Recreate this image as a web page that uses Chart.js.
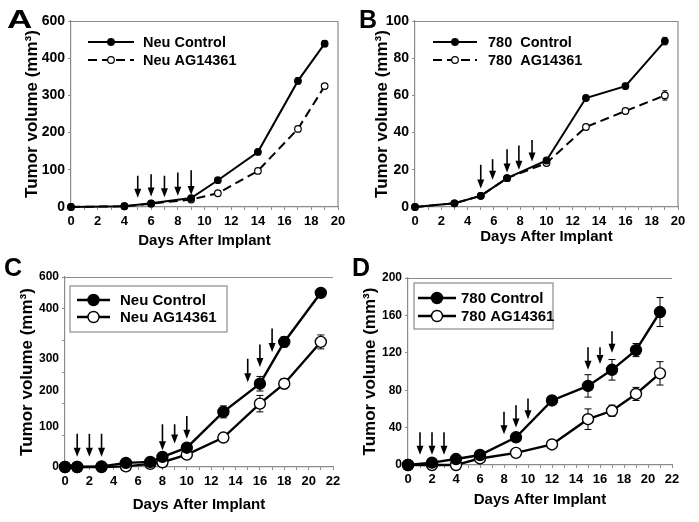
<!DOCTYPE html>
<html>
<head>
<meta charset="utf-8">
<script src="https://cdn.jsdelivr.net/npm/chart.js@4.4.1/dist/chart.umd.min.js"></script>
<style>
  body { margin: 0; background: #fff; }
  #fig { position: relative; width: 699px; height: 522px; overflow: hidden; font-family: "Liberation Sans", Arial, sans-serif; }
  .panel { position: absolute; }
  .letter { position: absolute; font-weight: bold; font-size: 25px; line-height: 1; color: #000; transform-origin: left top; }
</style>
</head>
<body>
<div id="fig">
  <div class="panel" style="left:0;top:0"><canvas id="chartA" width="350" height="260" style="width:350px;height:260px"></canvas></div>
  <div class="panel" style="left:350px;top:0"><canvas id="chartB" width="349" height="260" style="width:349px;height:260px"></canvas></div>
  <div class="panel" style="left:0;top:260px"><canvas id="chartC" width="350" height="262" style="width:350px;height:262px"></canvas></div>
  <div class="panel" style="left:350px;top:260px"><canvas id="chartD" width="349" height="262" style="width:349px;height:262px"></canvas></div>
  <div class="letter" style="left:7px;top:7px;transform:scaleX(1.4)">A</div>
  <div class="letter" style="left:359px;top:7px">B</div>
  <div class="letter" style="left:4px;top:255px">C</div>
  <div class="letter" style="left:352px;top:255px">D</div>
</div>
<script>
// Panel A - Neu, dashed treatment line
const daysA = [0, 4, 6, 9, 11, 14, 17, 19];
const neuControlA = [0, 2, 10, 24, 72, 148, 339, 439];
const neuControlErrA = [0, 0, 1, 2, 3, 4, 8, 8];
const neuAgA = [0, 2, 9, 20, 37, 97, 210, 325];
const neuAgErrA = [0, 0, 1, 2, 2, 3, 4, 4];
const arrowDaysA = [5, 6, 7, 8, 9];
const arrowTopA = [84, 88, 84, 93, 99];
const arrowTipA = [25, 28, 26, 30, 32];
// y labels of panel A as printed (top step is labelled 600)
const tickMarksA = [0, 100, 200, 300, 400, 500];
const tickLabelPosA = [0, 100, 200, 300, 400, 500];
const tickLabelsA = ['0', '100', '200', '300', '400', '600'];

// Panel B - 780, dashed treatment line
const daysB = [0, 3, 5, 7, 10, 13, 16, 19];
const ctlControlB = [0, 2, 6, 15.5, 25, 58.6, 65, 89.2];
const ctlControlErrB = [0, 0, 0, 0, 0, 0.8, 1.5, 2];
const ctlAgB = [0, 2, 6, 15.5, 23.6, 43, 51.6, 60];
const ctlAgErrB = [0, 0, 0, 0, 0, 0, 0.6, 2.5];
const arrowDaysB = [5, 5.9, 7, 7.9, 8.9];
const arrowTopB = [22.7, 25.7, 31, 33, 36];
const arrowTipB = [10, 14.6, 18.5, 20, 24.5];

// Panel C - Neu, second experiment
const daysC = [0, 1, 3, 5, 7, 8, 10, 13, 16, 18, 21];
const neuControlC = [0, 0, 2, 13, 16, 32, 61, 174, 263, 395, 550];
const neuControlErrC = [0, 0, 0, 0, 0, 0, 0, 19, 23, 16, 5];
const neuAgC = [0, 0, 0, 2, 10, 15, 39, 93, 200, 263, 395];
const neuAgErrC = [0, 0, 0, 0, 0, 0, 0, 0, 26, 16, 22];
const arrowDaysC = [1, 2, 3, 8, 9, 10, 15, 16, 17];
const arrowTopC = [105, 105, 105, 135, 135, 161, 342, 387, 437];
const arrowTipC = [32, 32, 32, 53, 74, 89, 268, 316, 363];
// y labels of panel C as printed (they sit off the 100-step tick marks)
const tickMarksC = [0, 100, 200, 300, 400, 500, 600];
const tickLabelPosC = [0, 126, 242, 341, 500, 600];
const tickLabelsC = ['0', '100', '200', '300', '400', '600'];

// Panel D - 780, second experiment
const daysD = [0, 2, 4, 6, 9, 12, 15, 17, 19, 21];
const ctlControlD = [0, 2.5, 6.4, 10.7, 29.6, 69, 84.6, 101.8, 122.9, 163.6];
const ctlControlErrD = [0, 0, 0, 0, 1, 4.5, 12, 11, 7, 15.5];
const ctlAgD = [0, 0, 0, 7, 13, 22, 49, 58, 76, 98];
const ctlAgErrD = [0, 0, 0, 0, 0, 2, 11, 6, 7, 12.5];
const arrowDaysD = [1, 2, 3, 8, 9, 10, 15, 16, 17];
const arrowTopD = [35, 35, 35, 57, 64, 71, 126, 126, 143];
const arrowTipD = [11, 11, 11, 33, 40, 49, 102, 108, 120];

const GREY = '#8c8c8c';
const FONT = '"Liberation Sans", Arial, sans-serif';

const toPoints = (days, vals) => days.map((d, i) => ({ x: d, y: vals[i] }));

// error bars, drawn under the markers
const errorBars = {
  id: 'errorBars',
  beforeDatasetsDraw(chart, args, opts) {
    const ctx = chart.ctx;
    const xs = chart.scales.x, ys = chart.scales.y;
    ctx.save();
    ctx.strokeStyle = '#000';
    ctx.lineWidth = 1;
    chart.data.datasets.forEach(ds => {
      if (!ds.errors) return;
      ds.data.forEach((p, i) => {
        const e = ds.errors[i];
        if (!e) return;
        const px = xs.getPixelForValue(p.x);
        const top = ys.getPixelForValue(p.y + e);
        const bot = ys.getPixelForValue(p.y - e);
        ctx.beginPath();
        ctx.moveTo(px, top); ctx.lineTo(px, bot);
        ctx.moveTo(px - opts.cap, top); ctx.lineTo(px + opts.cap, top);
        ctx.moveTo(px - opts.cap, bot); ctx.lineTo(px + opts.cap, bot);
        ctx.stroke();
      });
    });
    ctx.restore();
  }
};

// treatment arrows pointing down at the dosing days
const doseArrows = {
  id: 'doseArrows',
  afterDatasetsDraw(chart, args, opts) {
    if (!opts.days) return;
    const ctx = chart.ctx;
    const xs = chart.scales.x, ys = chart.scales.y;
    ctx.save();
    ctx.strokeStyle = '#000';
    ctx.fillStyle = '#000';
    ctx.lineWidth = 1.6;
    opts.days.forEach((d, i) => {
      const px = xs.getPixelForValue(d);
      const top = ys.getPixelForValue(opts.tops[i]);
      const tip = ys.getPixelForValue(opts.tips[i]);
      ctx.beginPath();
      ctx.moveTo(px, top); ctx.lineTo(px, tip - 6);
      ctx.stroke();
      ctx.beginPath();
      ctx.moveTo(px - 3.5, tip - 9); ctx.lineTo(px + 3.5, tip - 9); ctx.lineTo(px, tip);
      ctx.closePath();
      ctx.fill();
    });
    ctx.restore();
  }
};

// grey frame lines the scales do not draw
const frame = {
  id: 'frame',
  beforeDatasetsDraw(chart, args, opts) {
    const a = chart.chartArea, ctx = chart.ctx;
    ctx.save();
    ctx.strokeStyle = GREY;
    ctx.lineWidth = 1.2;
    ctx.beginPath();
    ctx.moveTo(a.left, a.top + 0.5); ctx.lineTo(a.right, a.top + 0.5);
    if (opts.right) ctx.lineTo(a.right, a.bottom);
    ctx.stroke();
    ctx.restore();
  }
};

// legend drawn inside the plot, same look as the reference
const insideLegend = {
  id: 'insideLegend',
  afterDraw(chart, args, opts) {
    const ctx = chart.ctx;
    ctx.save();
    if (opts.box) {
      ctx.strokeStyle = GREY;
      ctx.lineWidth = 1.2;
      ctx.strokeRect(opts.box.x, opts.box.y, opts.box.w, opts.box.h);
    }
    chart.data.datasets.forEach((ds, i) => {
      const y = opts.y + i * opts.dy;
      ctx.strokeStyle = '#000';
      ctx.lineWidth = ds.borderWidth;
      ctx.setLineDash(ds.borderDash || []);
      ctx.beginPath();
      ctx.moveTo(opts.x, y); ctx.lineTo(opts.x + opts.len, y);
      ctx.stroke();
      ctx.setLineDash([]);
      ctx.beginPath();
      ctx.arc(opts.x + opts.len / 2, y, ds.pointRadius, 0, Math.PI * 2);
      ctx.fillStyle = ds.pointBackgroundColor;
      ctx.fill();
      ctx.lineWidth = ds.pointBorderWidth;
      ctx.stroke();
      ctx.fillStyle = '#000';
      ctx.font = 'bold ' + opts.size + 'px ' + FONT;
      ctx.textBaseline = 'middle';
      ctx.fillText(ds.label, opts.textX, y + 1);
    });
    ctx.restore();
  }
};

function makeChart(id, p) {
  const big = p.big;
  const series = (label, days, vals, errs, filled, dashed) => ({
    label: label,
    data: toPoints(days, vals),
    errors: errs,
    borderColor: '#000',
    borderWidth: big ? 2.4 : 2,
    borderDash: dashed ? [9, 5] : [],
    pointRadius: big ? 5.5 : 3.3,
    pointHoverRadius: big ? 5.5 : 3.3,
    pointBorderWidth: big ? 1.4 : 1.2,
    pointBorderColor: '#000',
    pointBackgroundColor: filled ? '#000' : '#fff',
    tension: 0,
    clip: false
  });

  const yScale = {
    min: 0, max: p.yMax,
    afterFit: s => { s.width = p.area.left; },
    grid: { drawOnChartArea: false, color: GREY, tickLength: 3 },
    border: { color: GREY, width: 1.2 },
    ticks: {
      stepSize: p.yStep, color: '#000', padding: 3, autoSkip: false,
      font: { family: FONT, weight: 'bold', size: p.yTickSize }
    },
    title: {
      display: true, text: 'Tumor volume (mm³)', color: '#000',
      font: { family: FONT, weight: 'bold', size: 17 },
      padding: { top: p.yTitlePad, bottom: 0 }
    }
  };
  if (p.yTicks) {
    const all = Array.from(new Set(p.yTicks.marks.concat(p.yTicks.pos))).sort((a, b) => a - b);
    yScale.afterBuildTicks = s => { s.ticks = all.map(v => ({ value: v })); };
    yScale.ticks.callback = v => {
      const k = p.yTicks.pos.indexOf(v);
      return k < 0 ? '' : p.yTicks.labels[k];
    };
    yScale.grid.tickColor = c => (c.tick && p.yTicks.marks.includes(c.tick.value)) ? GREY : 'rgba(0,0,0,0)';
  }

  return new Chart(document.getElementById(id), {
    type: 'line',
    data: {
      datasets: [
        series(p.labels[0], p.days, p.control, p.controlErr, true, false),
        series(p.labels[1], p.days, p.treated, p.treatedErr, false, !big)
      ]
    },
    options: {
      responsive: false,
      animation: false,
      events: [],
      layout: {
        padding: { left: 0, top: p.area.top, right: p.width - p.area.right, bottom: 0 }
      },
      scales: {
        x: {
          type: 'linear', min: 0, max: p.xMax,
          afterFit: s => { s.height = p.height - p.area.bottom; },
          grid: { drawOnChartArea: false, color: GREY, tickLength: 3 },
          border: { color: GREY, width: 1.2 },
          ticks: {
            stepSize: 1, color: '#000', padding: 4, autoSkip: false, maxRotation: 0,
            font: { family: FONT, weight: 'bold', size: 13 },
            callback: v => (v % 2 === 0 ? v : '')
          },
          title: {
            display: true, text: 'Days After Implant', color: '#000',
            font: { family: FONT, weight: 'bold', size: 15 },
            padding: { top: 0, bottom: p.xTitlePad }
          }
        },
        y: yScale
      },
      plugins: {
        legend: { display: false },
        tooltip: { enabled: false },
        errorBars: { cap: big ? 3.5 : 2.5 },
        doseArrows: { days: p.arrowDays, tops: p.arrowTop, tips: p.arrowTip },
        frame: { right: !big },
        insideLegend: p.legend
      }
    },
    plugins: [frame, errorBars, doseArrows, insideLegend]
  });
}

makeChart('chartA', {
  width: 350, height: 260, area: { left: 71, right: 338, top: 21, bottom: 207 },
  xMax: 20, yMax: 500, yStep: 100, yTickSize: 14, yTitlePad: 22, xTitlePad: 10,
  yTicks: { marks: tickMarksA, pos: tickLabelPosA, labels: tickLabelsA },
  labels: ['Neu Control', 'Neu AG14361'],
  days: daysA, control: neuControlA, controlErr: neuControlErrA, treated: neuAgA, treatedErr: neuAgErrA,
  arrowDays: arrowDaysA, arrowTop: arrowTopA, arrowTip: arrowTipA,
  legend: { x: 88, y: 42, dy: 18, len: 46, textX: 143, size: 14.5 }
});

makeChart('chartB', {
  width: 349, height: 260, area: { left: 65, right: 328, top: 21, bottom: 207 },
  xMax: 20, yMax: 100, yStep: 20, yTickSize: 14, yTitlePad: 22, xTitlePad: 14,
  labels: ['780  Control', '780  AG14361'],
  days: daysB, control: ctlControlB, controlErr: ctlControlErrB, treated: ctlAgB, treatedErr: ctlAgErrB,
  arrowDays: arrowDaysB, arrowTop: arrowTopB, arrowTip: arrowTipB,
  legend: { x: 83, y: 42, dy: 18, len: 44, textX: 138, size: 14.5 }
});

makeChart('chartC', {
  big: true,
  width: 350, height: 262, area: { left: 65, right: 333, top: 17, bottom: 207 },
  xMax: 22, yMax: 600, yStep: 100, yTickSize: 12, yTitlePad: 17, xTitlePad: 8,
  yTicks: { marks: tickMarksC, pos: tickLabelPosC, labels: tickLabelsC },
  labels: ['Neu Control', 'Neu AG14361'],
  days: daysC, control: neuControlC, controlErr: neuControlErrC, treated: neuAgC, treatedErr: neuAgErrC,
  arrowDays: arrowDaysC, arrowTop: arrowTopC, arrowTip: arrowTipC,
  legend: { x: 77, y: 40, dy: 17, len: 33, textX: 120, size: 15, box: { x: 70, y: 26, w: 157, h: 46 } }
});

makeChart('chartD', {
  big: true,
  width: 349, height: 262, area: { left: 58, right: 322, top: 18, bottom: 205 },
  xMax: 22, yMax: 200, yStep: 40, yTickSize: 12, yTitlePad: 10, xTitlePad: 13,
  labels: ['780 Control', '780 AG14361'],
  days: daysD, control: ctlControlD, controlErr: ctlControlErrD, treated: ctlAgD, treatedErr: ctlAgErrD,
  arrowDays: arrowDaysD, arrowTop: arrowTopD, arrowTip: arrowTipD,
  legend: { x: 68, y: 38, dy: 18, len: 38, textX: 111, size: 15, box: { x: 64, y: 23, w: 139, h: 46 } }
});
</script>
</body>
</html>
